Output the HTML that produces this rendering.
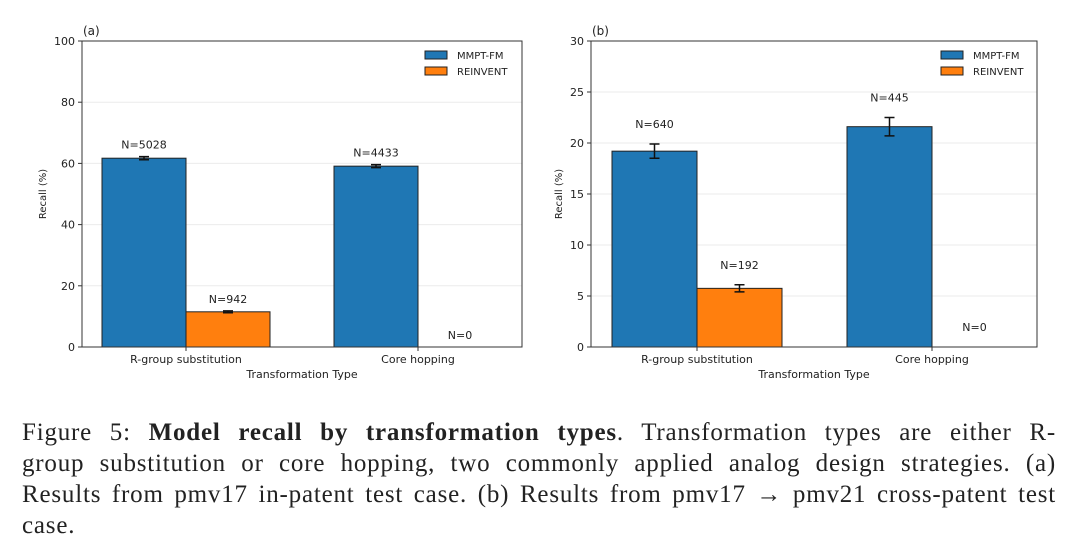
<!DOCTYPE html>
<html><head><meta charset="utf-8">
<style>
body{margin:0;width:1080px;height:552px;background:#fff;overflow:hidden;position:relative}
svg text{font-family:"DejaVu Sans","Liberation Sans",sans-serif;fill:#222}
#cap{position:absolute;left:22px;top:417px;width:1034px;font-family:"Liberation Serif",serif;font-size:25px;line-height:31px;color:#222;letter-spacing:0.8px}
#cap div{text-align:justify;text-align-last:justify;white-space:nowrap}
#cap div.last{text-align-last:left}
</style></head><body>
<svg id="chart" width="1080" height="400"></svg>
<div id="cap">
<div>Figure 5: <b>Model recall by transformation types</b>. Transformation types are either R-</div>
<div>group substitution or core hopping, two commonly applied analog design strategies. (a)</div>
<div>Results from pmv17 in-patent test case. (b) Results from pmv17 → pmv21 cross-patent test</div>
<div class="last">case.</div>
</div>
<script>
const categories=["R-group substitution","Core hopping"];
const seriesNames=["MMPT-FM","REINVENT"];
const colors=["#1f77b4","#ff7f0e"];
const aValues=[[61.7,59.1],[11.5,0]];
const aErrors=[[0.5,0.5],[0.3,0]];
const aN=[["N=5028","N=4433"],["N=942","N=0"]];
const aTicks=[0,20,40,60,80,100];
const bValues=[[19.2,21.6],[5.75,0]];
const bErrors=[[0.7,0.9],[0.35,0]];
const bN=[["N=640","N=445"],["N=192","N=0"]];
const bTicks=[0,5,10,15,20,25,30];
const svg=document.getElementById('chart');
const NS='http://www.w3.org/2000/svg';
function mk(tag,attrs,parent,txt){const e=document.createElementNS(NS,tag);for(const k in attrs)e.setAttribute(k,attrs[k]);if(txt!==undefined)e.textContent=txt;(parent||svg).appendChild(e);return e;}
function panel(p){
  const g=mk('g',{});
  
  
  const y=v=>p.bottom-(v/p.max)*(p.bottom-p.top);
  const cx=i=>p.firstC+i*p.gap;
  p.ticks.forEach(t=>{
    if(t>0&&t<p.max){const gl=mk('line',{x1:p.left,x2:p.right,y1:y(t),y2:y(t),stroke:'#ebebeb','stroke-width':1},g);
    }
    const tk=mk('line',{x1:p.left-4,x2:p.left,y1:y(t),y2:y(t),stroke:'#333'},g);
    
    const tl=mk('text',{x:p.left-7,y:y(t)+4,'text-anchor':'end','font-size':11},g,t);
    
  });
  p.values.forEach((ser,s)=>ser.forEach((v,i)=>{
    const x0=cx(i)+(s-1)*p.bw;
    const r=mk('rect',{x:x0,y:y(v),width:p.bw,height:p.bottom-y(v),fill:colors[s],stroke:'#222','stroke-width':1},g);
    
    
    const xc=x0+p.bw/2,e=p.errors[s][i];
    if(e>0){
      const el=mk('path',{d:`M${xc},${y(v+e)}V${y(v-e)}M${xc-5},${y(v+e)}H${xc+5}M${xc-5},${y(v-e)}H${xc+5}`,stroke:'#111','stroke-width':1.5,fill:'none'},g);
      
    }
    const nl=mk('text',{x:xc,y:y(v+e)-p.off,'text-anchor':'middle','font-size':11},g,p.N[s][i]);
    
  }));
  const fr=mk('rect',{x:p.left,y:p.top,width:p.right-p.left,height:p.bottom-p.top,fill:'none',stroke:'#333','stroke-width':1},g);
  
  categories.forEach((c,i)=>{
    const t=mk('line',{x1:cx(i),x2:cx(i),y1:p.bottom,y2:p.bottom+4,stroke:'#333'},g);
    
    const l=mk('text',{x:cx(i),y:p.bottom+16,'text-anchor':'middle','font-size':11},g,c);
    
  });
  const xt=mk('text',{x:(p.left+p.right)/2,y:p.bottom+31,'text-anchor':'middle','font-size':11},g,'Transformation Type');
  
  const yt=mk('text',{x:0,y:0,'text-anchor':'middle','font-size':10,transform:`translate(${p.ylx},${(p.top+p.bottom)/2}) rotate(-90)`},g,'Recall (%)');
  
  const pl=mk('text',{x:p.left+1,y:p.top-6,'font-size':12},g,'('+p.id+')');
  
  seriesNames.forEach((n,s)=>{
    const sw=mk('rect',{x:p.legX,y:51+s*16,width:22,height:8,fill:colors[s],stroke:'#222'},g);
    
    const lt=mk('text',{x:p.legX+32,y:59+s*16,'font-size':10},g,n);
    
  });
}
panel({id:'a',left:82,right:522,top:41,bottom:347,max:100,ticks:aTicks,values:aValues,errors:aErrors,N:aN,firstC:186,gap:232,bw:84,off:8,legX:425,ylx:46});
panel({id:'b',left:591,right:1037,top:41,bottom:347,max:30,ticks:bTicks,values:bValues,errors:bErrors,N:bN,firstC:697,gap:235,bw:85,off:16,legX:941,ylx:562});
</script>
</body></html>
